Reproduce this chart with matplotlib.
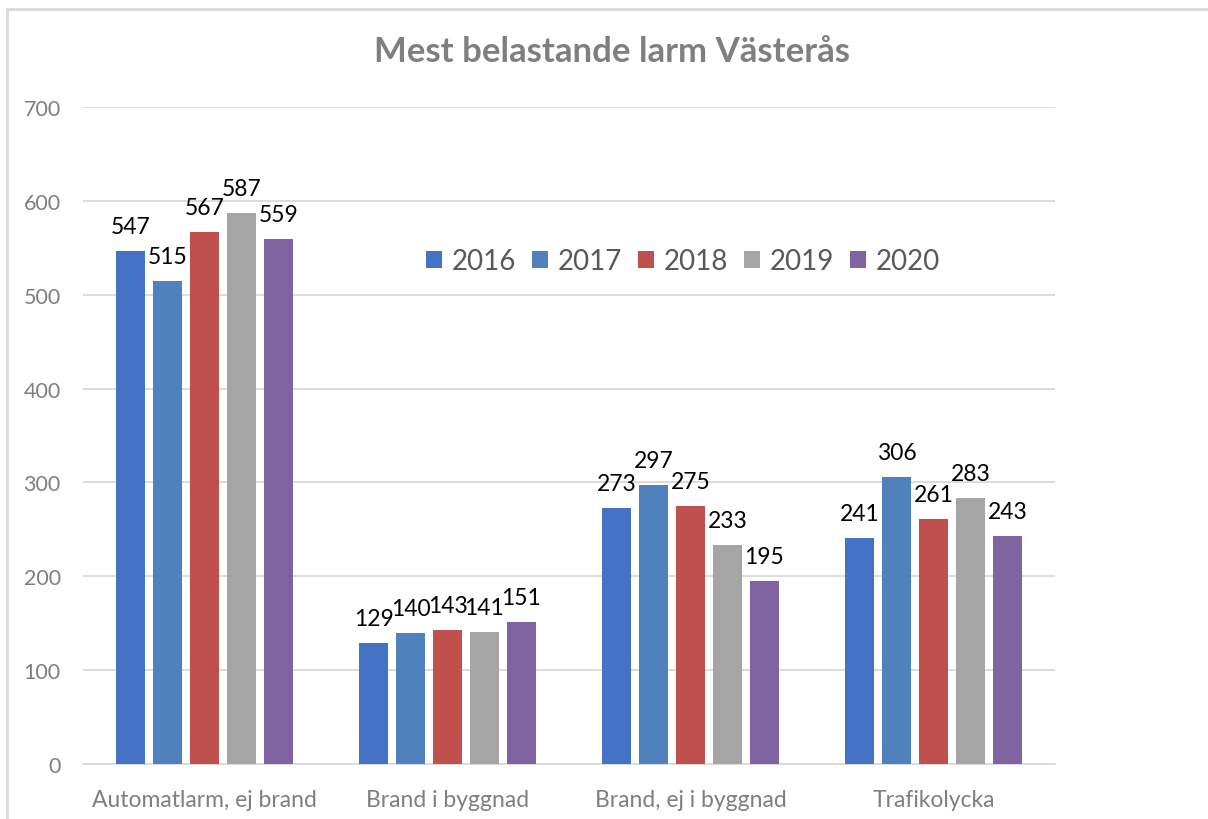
import numpy as np
import matplotlib.pyplot as plt
from matplotlib.patches import Rectangle

categories = ['Automatlarm, ej brand', 'Brand i byggnad', 'Brand, ej i byggnad', 'Trafikolycka']
years = ['2016', '2017', '2018', '2019', '2020']
v2016 = [547, 129, 273, 241]
v2017 = [515, 140, 297, 306]
v2018 = [567, 143, 275, 261]
v2019 = [587, 141, 233, 283]
v2020 = [559, 151, 195, 243]
series = [v2016, v2017, v2018, v2019, v2020]
colors = ['#4472C4', '#4F81BD', '#C0504D', '#A5A5A5', '#8064A2']

plt.rcParams['font.family'] = ['Lato', 'DejaVu Sans']

fig = plt.figure(figsize=(12.08, 8.2), dpi=100)
ax = fig.add_axes([83/1208, 1-765/820, 972/1208, 657/820])

# ram runt diagrammet
fig.patches.append(Rectangle((7/1208, -0.1), 1.2, 1-10/820+0.1, transform=fig.transFigure,
                             fill=False, edgecolor='#D9D9D9', linewidth=2))

x = np.arange(len(categories))
bw = 0.121
step = 0.152
for i, vals in enumerate(series):
    pos = x + (i - 2) * step
    ax.bar(pos, vals, width=bw, color=colors[i], label=years[i], zorder=3)
    for p, v in zip(pos, vals):
        ax.text(p, v + 15, str(v), ha='center', va='bottom', fontsize=16.5, color='black', zorder=4)

ax.set_xlim(-0.5, 3.5)
ax.set_ylim(0, 700)
ax.set_yticks(range(0, 701, 100))
ax.set_xticks(x)
ax.set_xticklabels(categories)
ax.tick_params(axis='both', length=0, labelcolor='#7F7F7F')
ax.tick_params(axis='y', pad=16, labelsize=15.5)
ax.tick_params(axis='x', pad=18, labelsize=16.5)
ax.grid(axis='y', color='#D9D9D9', linewidth=1.3, zorder=0)
for s in ['top', 'right', 'left']:
    ax.spines[s].set_visible(False)
ax.spines['bottom'].set_color('#D9D9D9')
ax.spines['bottom'].set_linewidth(1.3)

fig.text(612/1208, 1-52/820, 'Mest belastande larm Västerås', ha='center', va='center',
         fontsize=25, fontweight='bold', color='#7F7F7F')

fig.legend(loc='center', bbox_to_anchor=(683/1208, 1-262/820), ncol=5, frameon=False,
           fontsize=20, labelcolor='#595959', handlelength=0.55, handleheight=0.55,
           handletextpad=0.35, columnspacing=0.6)

plt.savefig('out.png', dpi=100)
